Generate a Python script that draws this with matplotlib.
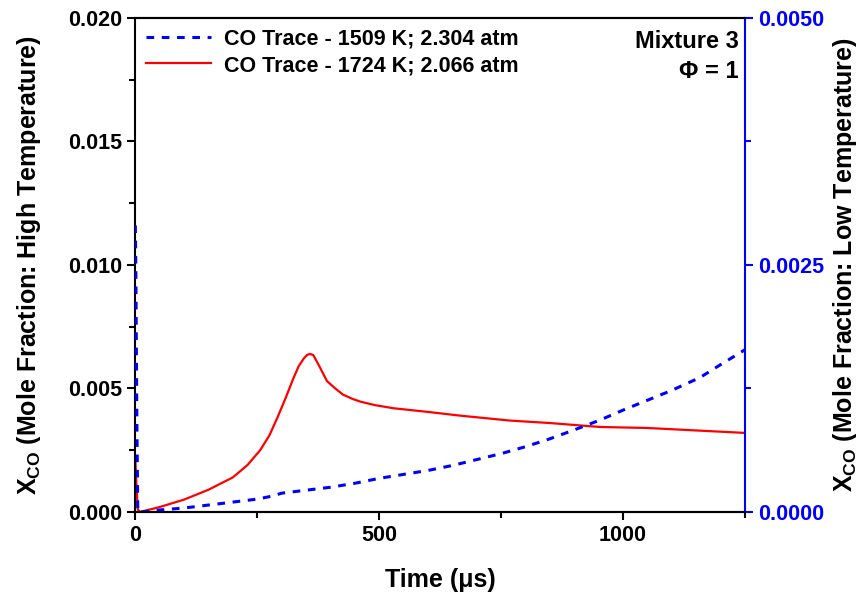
import numpy as np
import matplotlib.pyplot as plt
from matplotlib.ticker import MultipleLocator

plt.rcParams['font.family'] = ['Liberation Sans', 'DejaVu Sans']
plt.rcParams['font.weight'] = 'bold'
plt.rcParams['mathtext.fontset'] = 'custom'
plt.rcParams['mathtext.bf'] = 'Liberation Sans:bold'
plt.rcParams['mathtext.rm'] = 'Liberation Sans:bold'

# high temperature trace (left axis)
t_hi = [0, 2, 5, 10, 50, 100, 150, 200, 230, 256, 275, 291, 308, 324, 335, 345, 352, 358,
        365, 372, 380, 393, 410, 426, 445, 461, 490, 529, 600, 666, 768, 850, 953, 1050,
        1150, 1250]
x_hi = [0.0021, 0.0012, 0.0001, 0.0, 0.0002, 0.0005, 0.0009, 0.0014, 0.0019, 0.0025,
        0.0031, 0.0038, 0.0046, 0.0054, 0.0059, 0.0062, 0.00635, 0.0064, 0.00635, 0.0061,
        0.0058, 0.0053, 0.0050, 0.00475, 0.00458, 0.00447, 0.00433, 0.0042, 0.00405,
        0.0039, 0.0037, 0.0036, 0.00344, 0.0034, 0.00330, 0.0032]

# low temperature trace (right axis)
t_lo = [0, 1, 3, 5, 10, 50, 100, 150, 200, 250, 280, 300, 350, 400, 450, 500, 550, 600,
        650, 700, 750, 800, 850, 900, 953, 1000, 1050, 1100, 1158, 1200, 1250]
x_lo = [0.0029, 0.0025, 0.0010, 0.0, 0.0, 0.00002, 0.00004, 0.00007, 0.0001, 0.00013,
        0.00016, 0.00019, 0.00022, 0.00025, 0.00029, 0.00034, 0.00038, 0.00042, 0.00047,
        0.00053, 0.00059, 0.00066, 0.00074, 0.00083, 0.00093, 0.00103, 0.00113, 0.00123,
        0.00136, 0.00149, 0.00164]

fig, ax = plt.subplots(figsize=(8.62, 5.96), dpi=100)
fig.subplots_adjust(left=0.157, right=0.864, top=0.97, bottom=0.141)
ax2 = ax.twinx()

l2, = ax2.plot(t_lo, x_lo, color='blue', lw=2.2, ls=(0, (2.5, 2.5)),
               label='CO Trace - 1509 K; 2.304 atm')
l1, = ax.plot(t_hi, x_hi, color='red', lw=1.6,
              label='CO Trace - 1724 K; 2.066 atm')

ax.set_xlim(0, 1250)
ax.set_ylim(0, 0.02)
ax2.set_ylim(0, 0.005)

ax.xaxis.set_major_locator(MultipleLocator(500))
ax.xaxis.set_minor_locator(MultipleLocator(250))
ax.yaxis.set_major_locator(MultipleLocator(0.005))
ax.yaxis.set_minor_locator(MultipleLocator(0.0025))
ax2.yaxis.set_major_locator(MultipleLocator(0.0025))
ax2.yaxis.set_minor_locator(MultipleLocator(0.00125))
ax.yaxis.set_major_formatter(plt.FormatStrFormatter('%.3f'))
ax2.yaxis.set_major_formatter(plt.FormatStrFormatter('%.4f'))

for a in (ax, ax2):
    a.tick_params(which='major', direction='out', length=6, width=1.5, labelsize=15.5)
    a.tick_params(which='minor', direction='out', length=4, width=1.5)
    for s in a.spines.values():
        s.set_linewidth(1.5)

ax2.spines['right'].set_color('blue')
ax2.tick_params(axis='y', which='both', colors='blue')
ax2.spines['left'].set_visible(False)
ax.spines['right'].set_visible(False)

ax.set_xlabel('Time (μs)', fontsize=18, fontweight='bold', labelpad=16)
ax.set_ylabel('X$_{\\mathbf{CO}}$ (Mole Fraction: High Temperature)', fontsize=18,
              fontweight='bold', labelpad=18)
ax2.set_ylabel('X$_{\\mathbf{CO}}$ (Mole Fraction: Low Temperature)', fontsize=18,
               fontweight='bold', rotation=90, labelpad=5)

ax.legend(handles=[l2, l1], loc='upper left', frameon=False, fontsize=15.5,
          handlelength=3.0, borderaxespad=0.1, labelspacing=0.25, handletextpad=0.6)
ax.text(0.99, 0.975, 'Mixture 3\nΦ = 1', transform=ax.transAxes, ha='right', va='top',
        fontsize=17, fontweight='bold', linespacing=1.4)

fig.savefig('out.png', dpi=100)
